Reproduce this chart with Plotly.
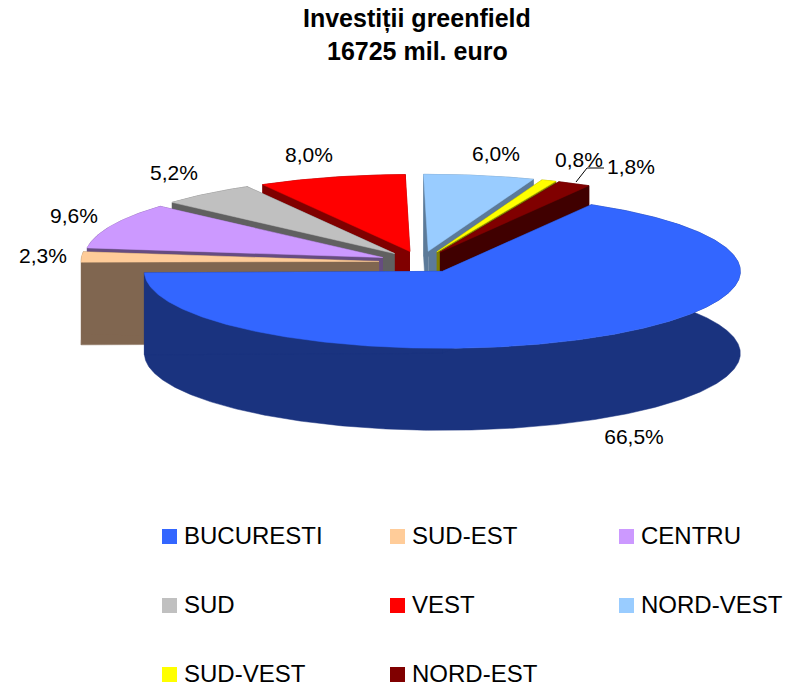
import math
import numpy as np
import plotly.graph_objects as go

# --- data ---
categories = ["BUCURESTI", "SUD-EST", "CENTRU", "SUD", "VEST", "NORD-VEST", "SUD-VEST", "NORD-EST"]
shares = [66.5, 2.3, 9.6, 5.2, 8.0, 6.0, 0.8, 1.8]
title_lines = ["Investiții greenfield", "16725 mil. euro"]

# --- styles ---
top_colors = ["#3366FF", "#FFCC99", "#CC99FF", "#C0C0C0", "#FF0000", "#99CCFF", "#FFFF00", "#800000"]
wall_colors = ["#1A337F", "#806650", "#664C80", "#606060", "#800000", "#5C7A99", "#808000", "#400000"]

# --- layout geometry (pixels of the 798x687 window) ---
W, H = 798, 687
CX, CY = 421.0, 262.0     # pie centre before the slices are pulled apart
RX, RY = 298.0, 77.0      # top ellipse radii
DEPTH = 82.0              # height of the pie
EXPLODE = 42.0            # pull-out of every slice
START = 30.0              # first slice angle, clockwise from north
draw_order = [4, 5, 3, 6, 2, 7, 1, 0]   # back to front
label_xy = [(634, 439), (43, 258), (74, 218), (174, 175), (309, 157), (496, 156), (579, 162), (631, 169)]
legend_xy = [(169.5, 535), (397.5, 535), (626.5, 535), (169.5, 604), (397.5, 604), (626.5, 604), (169.5, 673), (397.5, 673)]
marker_dy = 1.5
title_y = [18, 51]

total = sum(shares)
fig = go.Figure()


def add_poly(xs, ys, color):
    fig.add_trace(go.Scatter(x=xs, y=ys, mode="lines", fill="toself", fillcolor=color,
                             line=dict(color=color, width=0.5), hoverinfo="skip", showlegend=False))


angle = START
spans = []
for s in shares:
    sweep = s / total * 360.0
    spans.append((angle, angle + sweep))
    angle += sweep

for i in draw_order:
    a0, a1 = spans[i]
    mid = math.radians((a0 + a1) / 2)
    ax = CX + EXPLODE * math.sin(mid)
    ay = CY - EXPLODE * RY / RX * math.cos(mid)
    th = np.radians(np.linspace(a0, a1, max(12, int(a1 - a0) * 2)))
    rim_x = ax + RX * np.sin(th)
    rim_y = ay - RY * np.cos(th)
    # walls: curved rim, then the two radial faces
    add_poly(list(rim_x) + list(rim_x[::-1]), list(rim_y) + list((rim_y + DEPTH)[::-1]), wall_colors[i])
    for ex, ey in ((rim_x[0], rim_y[0]), (rim_x[-1], rim_y[-1])):
        add_poly([ax, ex, ex, ax], [ay, ey, ey + DEPTH, ay + DEPTH], wall_colors[i])
    # top face
    add_poly([ax] + list(rim_x) + [ax], [ay] + list(rim_y) + [ay], top_colors[i])

# leader line for the NORD-EST label
fig.add_trace(go.Scatter(x=[576, 587, 604], y=[182, 168, 168], mode="lines",
                         line=dict(color="#000000", width=1), hoverinfo="skip", showlegend=False))

# percentage labels
fig.add_trace(go.Scatter(x=[p[0] for p in label_xy], y=[p[1] for p in label_xy], mode="text",
                         text=[f"{v:.1f}%".replace(".", ",") for v in shares],
                         textposition="middle center",
                         textfont=dict(family="Liberation Sans", size=21, color="#000000"),
                         hoverinfo="skip", showlegend=False))

# legend
fig.add_trace(go.Scatter(x=[p[0] for p in legend_xy], y=[p[1] + marker_dy for p in legend_xy], mode="markers",
                         marker=dict(symbol="square", size=15, color=top_colors, line=dict(width=0)),
                         hoverinfo="skip", showlegend=False))
for name, (lx, ly) in zip(categories, legend_xy):
    fig.add_annotation(x=lx + 12.5, y=ly, text=name, showarrow=False, xanchor="left", yanchor="middle",
                       font=dict(family="Liberation Sans", size=24, color="#000000"))

# title
for line, ty in zip(title_lines, title_y):
    fig.add_annotation(x=417, y=ty, text=f"<b>{line}</b>", showarrow=False, xanchor="center", yanchor="middle",
                       font=dict(family="Liberation Sans", size=25, color="#000000"))

fig.update_layout(width=W, height=H, margin=dict(l=0, r=0, t=0, b=0),
                  paper_bgcolor="#FFFFFF", plot_bgcolor="#FFFFFF", showlegend=False,
                  xaxis=dict(range=[0, W], visible=False, fixedrange=True),
                  yaxis=dict(range=[H, 0], visible=False, fixedrange=True))
fig.write_html("out.html", config=dict(displayModeBar=False),
               post_script="document.body.style.margin='0';document.documentElement.style.overflow='hidden';")
